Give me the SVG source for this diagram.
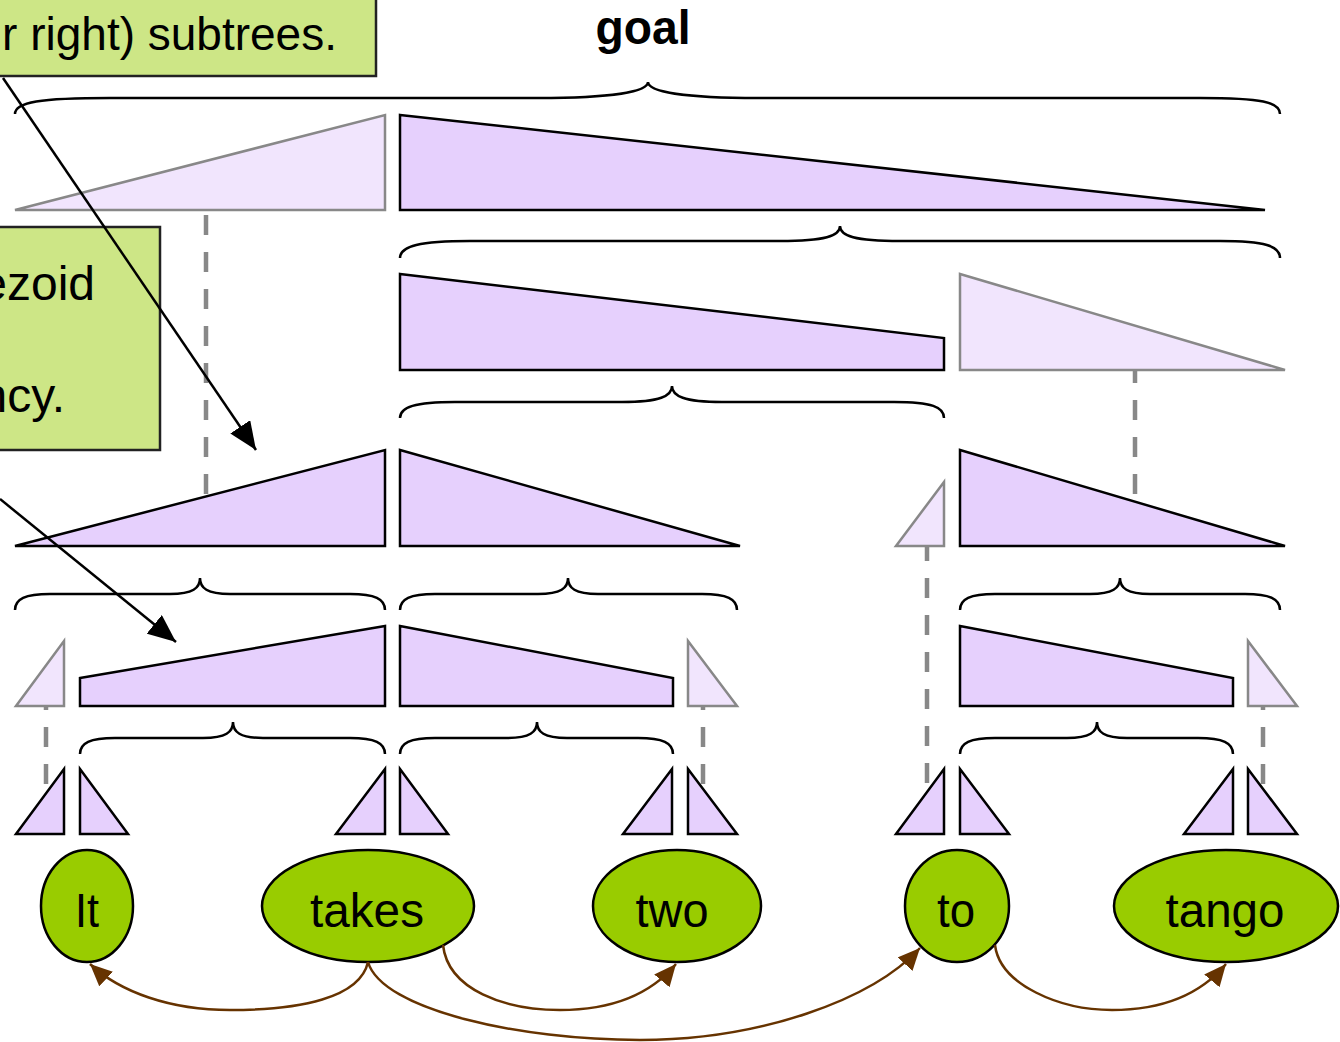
<svg xmlns="http://www.w3.org/2000/svg" width="1340" height="1042" viewBox="0 0 1340 1042">
  <style>
    .tri { fill: #e6d0fd; stroke: #000; stroke-width: 2.5; stroke-linejoin: miter; }
    .ghost { fill: #f1e5fd; stroke: #888; stroke-width: 2.5; }
    .brace { fill: none; stroke: #000; stroke-width: 2.5; }
    .dash { stroke: #888; stroke-width: 4.5; stroke-dasharray: 20 17; fill: none; }
    .note { fill: #cde686; stroke: #222; stroke-width: 2.5; }
    .word { fill: #99cc00; stroke: #000; stroke-width: 2.5; }
    .lbl { font-family: "Liberation Sans", Arial, sans-serif; font-size: 48px; fill: #000; }
    .lbl.small { font-size: 46px; }
    .dep { fill: none; stroke: #663300; stroke-width: 2.5; }
    .ptr { stroke: #000; stroke-width: 2.5; fill: none; }
  </style>
  <defs>
    <marker id="brownHead" markerUnits="userSpaceOnUse" markerWidth="24" markerHeight="20" refX="22" refY="10" orient="auto">
      <path d="M0,0 L22,10 L0,20 z" fill="#663300"/>
    </marker>
    <marker id="blackHead" markerUnits="userSpaceOnUse" markerWidth="30" markerHeight="24" refX="28" refY="12" orient="auto">
      <path d="M0,0 L28,12 L0,24 z" fill="#000"/>
    </marker>
  </defs>

  <rect width="1340" height="1042" fill="#fff"/>

  <!-- dashed links between item spans -->
  <g id="spanLinks">
    <line class="dash" x1="206" y1="215" x2="206" y2="497"/>
    <line class="dash" x1="1135" y1="363" x2="1135" y2="497"/>
    <line class="dash" x1="927" y1="541" x2="927" y2="784"/>
    <line class="dash" x1="46" y1="690" x2="46" y2="784"/>
    <line class="dash" x1="703" y1="690" x2="703" y2="784"/>
    <line class="dash" x1="1263" y1="690" x2="1263" y2="784"/>
  </g>

  <!-- title -->
  <g id="goal">
    <text class="lbl" x="643" y="44" text-anchor="middle" font-weight="bold" textLength="95" lengthAdjust="spacingAndGlyphs">goal</text>
  </g>

  <!-- braces -->
  <g id="braces">
    <path class="brace" d="M15,114 C15,102 40,98 110,98 L538,98 C610,98 648,92 648,82 C648,92 686,98 758,98 L1200,98 C1262,98 1280,102 1280,114"/>
    <path class="brace" d="M400,258 C400,246 420,241 470,241 L780,241 C825,241 840,236 840,226 C840,236 855,241 900,241 L1220,241 C1265,241 1280,246 1280,258"/>
    <path class="brace" d="M400,418 C400,407 415,402 455,402 L622,402 C660,402 672,396 672,386 C672,396 684,402 722,402 L894,402 C932,402 944,407 944,418"/>
    <path class="brace" d="M15,610 C15,599 25,594 50,594 L170,594 C193,594 200,588 200,578 C200,588 207,594 230,594 L350,594 C375,594 385,599 385,610"/>
    <path class="brace" d="M400,610 C400,599 410,594 435,594 L538,594 C561,594 568,588 568,578 C568,588 575,594 598,594 L702,594 C727,594 737,599 737,610"/>
    <path class="brace" d="M960,610 C960,599 970,594 995,594 L1090,594 C1113,594 1120,588 1120,578 C1120,588 1127,594 1150,594 L1245,594 C1270,594 1280,599 1280,610"/>
    <path class="brace" d="M80,754 C80,743 90,738 115,738 L203,738 C226,738 233,732 233,722 C233,732 240,738 263,738 L350,738 C375,738 385,743 385,754"/>
    <path class="brace" d="M400,754 C400,743 410,738 435,738 L507,738 C530,738 537,732 537,722 C537,732 544,738 567,738 L638,738 C663,738 673,743 673,754"/>
    <path class="brace" d="M960,754 C960,743 970,738 995,738 L1067,738 C1090,738 1097,732 1097,722 C1097,732 1104,738 1127,738 L1198,738 C1223,738 1233,743 1233,754"/>
  </g>

  <!-- top level spans -->
  <g id="row1">
    <polygon class="ghost" points="15,210 385,115 385,210"/>
    <polygon class="tri" points="400,115 1265,210 400,210"/>
  </g>
  <g id="row2">
    <polygon class="tri" points="400,274 944,338 944,370 400,370"/>
    <polygon class="ghost" points="960,274 1285,370 960,370"/>
  </g>
  <g id="row3">
    <polygon class="tri" points="15,546 385,450 385,546"/>
    <polygon class="tri" points="400,450 740,546 400,546"/>
    <polygon class="ghost" points="896,546 944,482 944,546"/>
    <polygon class="tri" points="960,450 1285,546 960,546"/>
  </g>
  <g id="row4">
    <polygon class="ghost" points="16,706 64,641 64,706"/>
    <polygon class="tri" points="80,678 385,626 385,706 80,706"/>
    <polygon class="tri" points="400,626 673,678 673,706 400,706"/>
    <polygon class="ghost" points="688,641 737,706 688,706"/>
    <polygon class="tri" points="960,626 1233,678 1233,706 960,706"/>
    <polygon class="ghost" points="1248,641 1297,706 1248,706"/>
  </g>
  <g id="row5">
    <polygon class="tri" points="16,834 64,769 64,834"/>
    <polygon class="tri" points="80,769 128,834 80,834"/>
    <polygon class="tri" points="336,834 385,769 385,834"/>
    <polygon class="tri" points="400,769 448,834 400,834"/>
    <polygon class="tri" points="623,834 672,769 672,834"/>
    <polygon class="tri" points="688,769 737,834 688,834"/>
    <polygon class="tri" points="896,834 944,769 944,834"/>
    <polygon class="tri" points="960,769 1009,834 960,834"/>
    <polygon class="tri" points="1184,834 1233,769 1233,834"/>
    <polygon class="tri" points="1248,769 1297,834 1248,834"/>
  </g>

  <!-- words -->
  <g id="w-It">
    <ellipse class="word" cx="87" cy="906" rx="46" ry="56"/>
    <text class="lbl" x="87" y="927" text-anchor="middle" textLength="24" lengthAdjust="spacingAndGlyphs">It</text>
  </g>
  <g id="w-takes">
    <ellipse class="word" cx="368" cy="906" rx="106" ry="56"/>
    <text class="lbl" x="367" y="927" text-anchor="middle" textLength="114" lengthAdjust="spacingAndGlyphs">takes</text>
  </g>
  <g id="w-two">
    <ellipse class="word" cx="677" cy="906" rx="84" ry="56"/>
    <text class="lbl" x="672" y="927" text-anchor="middle" textLength="73" lengthAdjust="spacingAndGlyphs">two</text>
  </g>
  <g id="w-to">
    <ellipse class="word" cx="957" cy="906" rx="52" ry="56"/>
    <text class="lbl" x="956" y="927" text-anchor="middle" textLength="38" lengthAdjust="spacingAndGlyphs">to</text>
  </g>
  <g id="w-tango">
    <ellipse class="word" cx="1226" cy="906" rx="112" ry="56"/>
    <text class="lbl" x="1225" y="927" text-anchor="middle" textLength="119" lengthAdjust="spacingAndGlyphs">tango</text>
  </g>

  <!-- dependency arcs -->
  <g id="arcs">
    <path class="dep" marker-end="url(#brownHead)" d="M368,962 C360,998 300,1010 230,1010 C170,1010 120,992 90,964"/>
    <path class="dep" marker-end="url(#brownHead)" d="M443,945 C448,990 505,1010 560,1010 C612,1010 650,995 676,964"/>
    <path class="dep" marker-end="url(#brownHead)" d="M368,962 C382,1010 520,1040 640,1040 C760,1040 872,1000 920,948"/>
    <path class="dep" marker-end="url(#brownHead)" d="M995,945 C1000,985 1060,1010 1112,1010 C1162,1010 1200,995 1226,964"/>
  </g>

  <!-- callouts -->
  <g id="note-subtrees">
    <rect class="note" x="-5" y="-5" width="381" height="81"/>
    <text class="lbl small" x="337" y="50" text-anchor="end">r right) subtrees.</text>
  </g>
  <g id="note-trapezoid">
    <rect class="note" x="-5" y="227" width="165" height="223"/>
    <text class="lbl" x="95" y="300" text-anchor="end">ezoid</text>
    <text class="lbl" x="65" y="412" text-anchor="end">ncy.</text>
  </g>

  <!-- callout pointers -->
  <g id="pointers">
    <line class="ptr" marker-end="url(#blackHead)" x1="3" y1="78" x2="256" y2="450"/>
    <line class="ptr" marker-end="url(#blackHead)" x1="0" y1="499" x2="176" y2="642"/>
  </g>
</svg>
